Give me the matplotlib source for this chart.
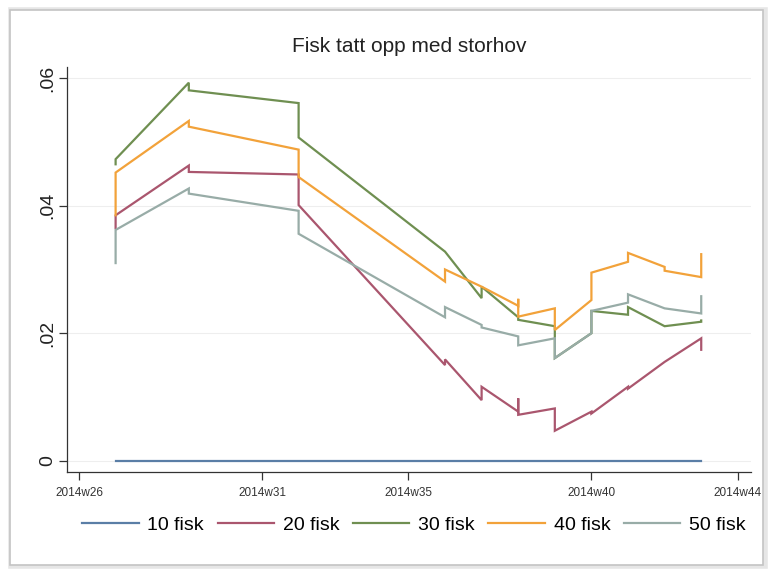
import matplotlib
matplotlib.use("Agg")
import matplotlib.pyplot as plt
from matplotlib.patches import Rectangle

plt.rcParams['font.family'] = ['Liberation Sans', 'DejaVu Sans']

# week numbers (2014) and share of fish, in drawing order (repeated weeks give the jumps)
weeks_10 = [27, 29, 32, 36, 37, 38, 39, 40, 41, 42, 43]
fisk_10 = [0, 0, 0, 0, 0, 0, 0, 0, 0, 0, 0]

weeks_20 = [27, 27, 29, 29, 32, 32, 36, 36, 37, 37, 38, 38, 38, 39, 39, 40, 40, 41, 41, 42, 43, 43]
fisk_20 = [0.0365, 0.0385, 0.0463, 0.0453, 0.0449, 0.0401, 0.0150, 0.0159, 0.0095, 0.0116,
           0.0077, 0.0098, 0.0072, 0.0082, 0.0047, 0.0077, 0.0074, 0.0116, 0.0113, 0.0155,
           0.0192, 0.0174]

weeks_30 = [27, 27, 29, 29, 32, 32, 36, 37, 37, 38, 38, 39, 39, 40, 40, 41, 41, 42, 43, 43]
fisk_30 = [0.0465, 0.0473, 0.0593, 0.0581, 0.0561, 0.0507, 0.0328, 0.0255, 0.0273, 0.0225,
           0.0221, 0.0211, 0.0161, 0.0200, 0.0235, 0.0229, 0.0241, 0.0211, 0.0218, 0.0220]

weeks_40 = [27, 27, 29, 29, 32, 32, 36, 36, 37, 38, 38, 38, 39, 39, 40, 40, 41, 41, 42, 42, 43, 43]
fisk_40 = [0.0385, 0.0452, 0.0533, 0.0524, 0.0488, 0.0445, 0.0281, 0.0300, 0.0273, 0.0243,
           0.0254, 0.0226, 0.0239, 0.0205, 0.0252, 0.0295, 0.0312, 0.0326, 0.0304, 0.0298,
           0.0288, 0.0324]

weeks_50 = [27, 27, 29, 29, 32, 32, 36, 36, 37, 37, 38, 38, 39, 39, 40, 40, 41, 41, 42, 43, 43]
fisk_50 = [0.0310, 0.0362, 0.0427, 0.0419, 0.0392, 0.0356, 0.0225, 0.0241, 0.0213, 0.0209,
           0.0195, 0.0181, 0.0192, 0.0161, 0.0200, 0.0235, 0.0248, 0.0261, 0.0239, 0.0231,
           0.0258]

labels = ['10 fisk', '20 fisk', '30 fisk', '40 fisk', '50 fisk']
colors = ['#5a7ea6', '#aa566e', '#6f8f51', '#f2a23a', '#98aca7']
tick_weeks = [26, 31, 35, 40, 44]

fig = plt.figure(figsize=(7.75, 5.75), dpi=100)
fig.patch.set_facecolor('white')

# frame around the graph (kept behind the axes)
fig.patches.append(Rectangle((11 / 775, 9 / 575), 754 / 775, 556 / 575, transform=fig.transFigure,
                             facecolor='none', edgecolor='#e6e6e6', lw=4, zorder=-2))
fig.patches.append(Rectangle((10 / 775, 10 / 575), 753 / 775, 555 / 575, transform=fig.transFigure,
                             facecolor='white', edgecolor='#c4c4c4', lw=1.2, zorder=-1))

ax = fig.add_axes([67 / 775, 1 - 472 / 575, 684 / 775, 405 / 575])
ax.set_facecolor('none')

series = [(weeks_10, fisk_10), (weeks_20, fisk_20), (weeks_30, fisk_30),
          (weeks_40, fisk_40), (weeks_50, fisk_50)]
for (w, v), lab, c in zip(series, labels, colors):
    ax.plot(w, v, color=c, lw=1.6, label=lab, solid_joinstyle='miter')

ax.set_xlim(25.672, 44.36)
ax.set_ylim(-0.00177, 0.06176)

ax.set_xticks(tick_weeks)
ax.set_xticklabels(['2014w%d' % w for w in tick_weeks], fontsize=8.5, color='#333333')
ax.set_yticks([0, 0.02, 0.04, 0.06])
ax.set_yticklabels(['0', '.02', '.04', '.06'], fontsize=14, rotation=90, va='center', color='#222222')
ax.tick_params(axis='both', direction='out', length=6, width=0.9, color='#333333')
ax.tick_params(axis='x', pad=5)
ax.tick_params(axis='y', pad=2)

ax.grid(axis='y', color='#eeeeee', lw=0.8)
ax.set_axisbelow(True)
for s in ['top', 'right']:
    ax.spines[s].set_visible(False)
for s in ['left', 'bottom']:
    ax.spines[s].set_color('#333333')
    ax.spines[s].set_linewidth(0.9)

ax.set_title('Fisk tatt opp med storhov', fontsize=15, color='#222222', pad=11)

fig.legend(loc='center', bbox_to_anchor=(414 / 775, 1 - 525 / 575), ncol=5, frameon=False,
           fontsize=14, handlelength=2.9, handletextpad=0.45, columnspacing=0.7)

fig.savefig('out.png', dpi=100)
